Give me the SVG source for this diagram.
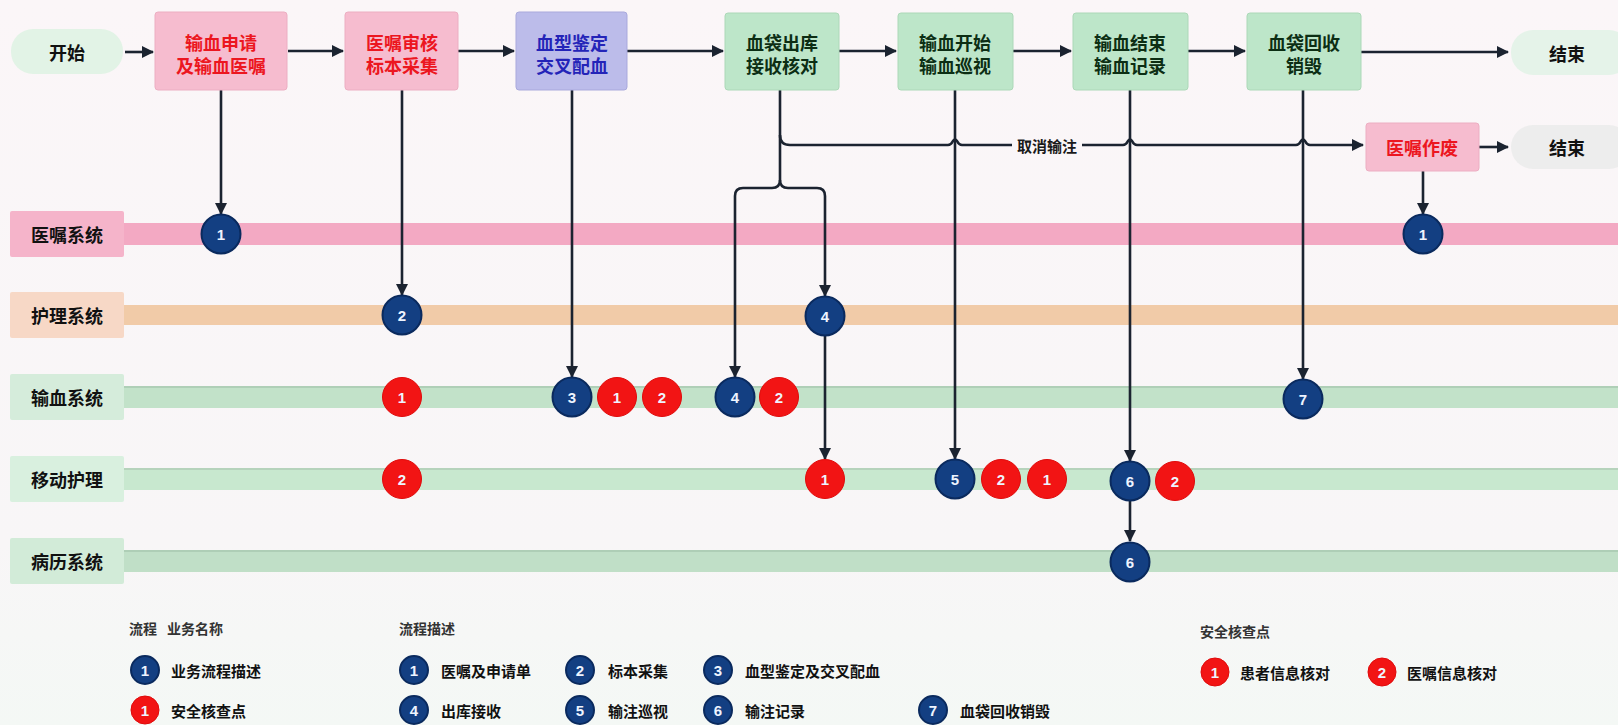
<svg xmlns="http://www.w3.org/2000/svg" width="1618" height="725" viewBox="0 0 1618 725">
<defs>
<marker id="ah" viewBox="0 0 12 12" refX="11" refY="6" markerWidth="12" markerHeight="12" markerUnits="userSpaceOnUse" orient="auto">
<path d="M0,0 L12,6 L0,12 Z" fill="#1b2330"/>
</marker>
<linearGradient id="bgG" x1="0" y1="0" x2="0" y2="1">
<stop offset="0" stop-color="#fbf6f8"/>
<stop offset="0.75" stop-color="#f8f6f7"/>
<stop offset="1" stop-color="#f4f8f5"/>
</linearGradient>
</defs>
<style>
.nt{font-family:"Noto Sans CJK SC","Noto Sans",sans-serif;font-weight:bold;font-size:18px;text-anchor:middle;dominant-baseline:central}
.red{fill:#ec1620}
.blu{fill:#2424b8}
.grn{fill:#0c2e14}
.blk{fill:#111}
.pink{fill:#f6bccf;stroke:#ecaec2;stroke-width:1}
.lav{fill:#bcbcea;stroke:#a9a9dc;stroke-width:1}
.green{fill:#bde6c9;stroke:#acd8b8;stroke-width:1}
.ln{fill:none;stroke:#1b2330;stroke-width:2.6}
.cb{fill:#133f82;stroke:#0a2a5e;stroke-width:2}
.cr{fill:#f21414;stroke:#e00a0a;stroke-width:1}
.cn{font-family:"Liberation Sans","DejaVu Sans",sans-serif;font-weight:bold;font-size:15px;fill:#eef4ff;text-anchor:middle;dominant-baseline:central}
.lt{font-family:"Noto Sans CJK SC","Noto Sans",sans-serif;font-weight:bold;font-size:15px;fill:#111;dominant-baseline:central}
.lh{font-family:"Noto Sans CJK SC","Noto Sans",sans-serif;font-weight:bold;font-size:14px;fill:#333;dominant-baseline:central}
.ll{font-family:"Noto Sans CJK SC","Noto Sans",sans-serif;font-weight:bold;font-size:18px;fill:#111;text-anchor:middle;dominant-baseline:central}
</style>
<rect x="0" y="0" width="1618" height="725" fill="url(#bgG)"/>

<!-- lanes -->
<g id="lane-yizhu">
<rect x="124" y="223" width="1494" height="22" fill="#f3a9c3"/>
<rect x="10" y="211" width="114" height="46" rx="2" fill="#f5b4ca"/>
<text class="ll" x="67" y="234">医嘱系统</text>
</g>
<g id="lane-huli">
<rect x="124" y="305" width="1494" height="20" fill="#f1cba8"/>
<rect x="10" y="292" width="114" height="46" rx="2" fill="#f7d8c6"/>
<text class="ll" x="67" y="315">护理系统</text>
</g>
<g id="lane-shuxue">
<rect x="124" y="386" width="1494" height="22" fill="#c2e2c9"/>
<line x1="124" y1="387" x2="1618" y2="387" stroke="#a9c9b0" stroke-width="1.5"/>
<rect x="10" y="374" width="114" height="46" rx="2" fill="#d5ecdb"/>
<text class="ll" x="67" y="397">输血系统</text>
</g>
<g id="lane-yidong">
<rect x="124" y="468" width="1494" height="22" fill="#c8e8cf"/>
<line x1="124" y1="469" x2="1618" y2="469" stroke="#b0ccb6" stroke-width="1.5"/>
<rect x="10" y="456" width="114" height="46" rx="2" fill="#d9f0df"/>
<text class="ll" x="67" y="479">移动护理</text>
</g>
<g id="lane-bingli">
<rect x="124" y="550" width="1494" height="22" fill="#c0dfc7"/>
<line x1="124" y1="551" x2="1618" y2="551" stroke="#a8c8b0" stroke-width="1.5"/>
<rect x="10" y="538" width="114" height="46" rx="2" fill="#d2ebd8"/>
<text class="ll" x="67" y="561">病历系统</text>
</g>

<!-- connectors -->
<g id="connectors">
<line class="ln" x1="125" y1="52" x2="153" y2="52" marker-end="url(#ah)"/>
<line class="ln" x1="288" y1="51" x2="343" y2="51" marker-end="url(#ah)"/>
<line class="ln" x1="458" y1="51" x2="514" y2="51" marker-end="url(#ah)"/>
<line class="ln" x1="627" y1="51" x2="723" y2="51" marker-end="url(#ah)"/>
<line class="ln" x1="839" y1="51" x2="896" y2="51" marker-end="url(#ah)"/>
<line class="ln" x1="1013" y1="51" x2="1071" y2="51" marker-end="url(#ah)"/>
<line class="ln" x1="1188" y1="51" x2="1245" y2="51" marker-end="url(#ah)"/>
<line class="ln" x1="1361" y1="52" x2="1508" y2="52" marker-end="url(#ah)"/>
<line class="ln" x1="1479" y1="147" x2="1508" y2="147" marker-end="url(#ah)"/>

<line class="ln" x1="221" y1="90" x2="221" y2="214" marker-end="url(#ah)"/>
<line class="ln" x1="402" y1="90" x2="402" y2="295" marker-end="url(#ah)"/>
<line class="ln" x1="572" y1="90" x2="572" y2="377" marker-end="url(#ah)"/>
<path class="ln" d="M780,90 V180 Q780,188 772,188 H743 Q735,188 735,196 V377" marker-end="url(#ah)"/>
<path class="ln" d="M780,180 Q780,188 788,188 H817 Q825,188 825,196 V296" marker-end="url(#ah)"/>
<line class="ln" x1="825" y1="335" x2="825" y2="459" marker-end="url(#ah)"/>
<line class="ln" x1="955" y1="90" x2="955" y2="459" marker-end="url(#ah)"/>
<line class="ln" x1="1130" y1="90" x2="1130" y2="461" marker-end="url(#ah)"/>
<line class="ln" x1="1130" y1="501" x2="1130" y2="541" marker-end="url(#ah)"/>
<line class="ln" x1="1303" y1="90" x2="1303" y2="379" marker-end="url(#ah)"/>
<line class="ln" x1="1423" y1="171" x2="1423" y2="214" marker-end="url(#ah)"/>

<path class="ln" d="M780,135 Q780,145 790,145 H948 Q951,145 953,141 Q955,138 957,141 Q959,145 962,145 H1012"/>
<path class="ln" d="M1082,145 H1123 Q1126,145 1128,141 Q1130,138 1132,141 Q1134,145 1137,145 H1296 Q1299,145 1301,141 Q1303,138 1305,141 Q1307,145 1310,145 H1363" marker-end="url(#ah)"/>
<text x="1047" y="145" style="font-family:'Noto Sans CJK SC','Noto Sans',sans-serif;font-weight:bold;font-size:15px;fill:#1a1a1a;text-anchor:middle;dominant-baseline:central">取消输注</text>
</g>

<!-- top nodes -->
<g id="start">
<rect x="11" y="29" width="112" height="45" rx="22" fill="#e2f3e6"/>
<text class="nt blk" x="67" y="52">开始</text>
</g>
<g id="n1">
<rect class="pink" x="155" y="12" width="132" height="78" rx="3"/>
<text class="nt red" x="221" y="42">输血申请</text>
<text class="nt red" x="221" y="65">及输血医嘱</text>
</g>
<g id="n2">
<rect class="pink" x="345" y="12" width="113" height="78" rx="3"/>
<text class="nt red" x="402" y="42">医嘱审核</text>
<text class="nt red" x="402" y="65">标本采集</text>
</g>
<g id="n3">
<rect class="lav" x="516" y="12" width="111" height="78" rx="3"/>
<text class="nt blu" x="572" y="42">血型鉴定</text>
<text class="nt blu" x="572" y="65">交叉配血</text>
</g>
<g id="n4">
<rect class="green" x="725" y="13" width="114" height="77" rx="3"/>
<text class="nt grn" x="782" y="42">血袋出库</text>
<text class="nt grn" x="782" y="65">接收核对</text>
</g>
<g id="n5">
<rect class="green" x="898" y="13" width="115" height="77" rx="3"/>
<text class="nt grn" x="955" y="42">输血开始</text>
<text class="nt grn" x="955" y="65">输血巡视</text>
</g>
<g id="n6">
<rect class="green" x="1073" y="13" width="115" height="77" rx="3"/>
<text class="nt grn" x="1130" y="42">输血结束</text>
<text class="nt grn" x="1130" y="65">输血记录</text>
</g>
<g id="n7">
<rect class="green" x="1247" y="13" width="114" height="77" rx="3"/>
<text class="nt grn" x="1304" y="42">血袋回收</text>
<text class="nt grn" x="1304" y="65">销毁</text>
</g>
<g id="end1">
<rect x="1511" y="30" width="120" height="45" rx="22" fill="#e5f3e9"/>
<text class="nt blk" x="1567" y="53">结束</text>
</g>
<g id="cancel">
<rect class="pink" x="1366" y="123" width="113" height="48" rx="3"/>
<text class="nt red" x="1422" y="147">医嘱作废</text>
</g>
<g id="end2">
<rect x="1511" y="125" width="120" height="44" rx="22" fill="#ededed"/>
<text class="nt blk" x="1567" y="147">结束</text>
</g>

<!-- lane markers -->
<g id="m-yizhu-1a"><circle class="cb" cx="221" cy="234" r="19.5"/><text class="cn" x="221" y="234">1</text></g>
<g id="m-yizhu-1b"><circle class="cb" cx="1423" cy="234" r="19.5"/><text class="cn" x="1423" y="234">1</text></g>
<g id="m-huli-2"><circle class="cb" cx="402" cy="315" r="19.5"/><text class="cn" x="402" y="315">2</text></g>
<g id="m-huli-4"><circle class="cb" cx="825" cy="316" r="19.5"/><text class="cn" x="825" y="316">4</text></g>
<g id="m-sx-r1"><circle class="cr" cx="402" cy="397" r="19.5"/><text class="cn" x="402" y="397">1</text></g>
<g id="m-sx-3"><circle class="cb" cx="572" cy="397" r="19.5"/><text class="cn" x="572" y="397">3</text></g>
<g id="m-sx-r1b"><circle class="cr" cx="617" cy="397" r="19.5"/><text class="cn" x="617" y="397">1</text></g>
<g id="m-sx-r2"><circle class="cr" cx="662" cy="397" r="19.5"/><text class="cn" x="662" y="397">2</text></g>
<g id="m-sx-4"><circle class="cb" cx="735" cy="397" r="19.5"/><text class="cn" x="735" y="397">4</text></g>
<g id="m-sx-r2b"><circle class="cr" cx="779" cy="397" r="19.5"/><text class="cn" x="779" y="397">2</text></g>
<g id="m-sx-7"><circle class="cb" cx="1303" cy="399" r="19.5"/><text class="cn" x="1303" y="399">7</text></g>
<g id="m-yd-r2"><circle class="cr" cx="402" cy="479" r="19.5"/><text class="cn" x="402" y="479">2</text></g>
<g id="m-yd-r1"><circle class="cr" cx="825" cy="479" r="19.5"/><text class="cn" x="825" y="479">1</text></g>
<g id="m-yd-5"><circle class="cb" cx="955" cy="479" r="19.5"/><text class="cn" x="955" y="479">5</text></g>
<g id="m-yd-r2b"><circle class="cr" cx="1001" cy="479" r="19.5"/><text class="cn" x="1001" y="479">2</text></g>
<g id="m-yd-r1b"><circle class="cr" cx="1047" cy="479" r="19.5"/><text class="cn" x="1047" y="479">1</text></g>
<g id="m-yd-6"><circle class="cb" cx="1130" cy="481" r="19.5"/><text class="cn" x="1130" y="481">6</text></g>
<g id="m-yd-r2c"><circle class="cr" cx="1175" cy="481" r="19.5"/><text class="cn" x="1175" y="481">2</text></g>
<g id="m-bl-6"><circle class="cb" cx="1130" cy="562" r="19.5"/><text class="cn" x="1130" y="562">6</text></g>

<!-- legend -->
<g id="legend">
<text class="lh" x="129" y="628">流程</text>
<text class="lh" x="167" y="628">业务名称</text>
<circle class="cb" cx="145" cy="670" r="14"/><text class="cn" x="145" y="670">1</text>
<text class="lt" x="171" y="670">业务流程描述</text>
<circle class="cr" cx="145" cy="710" r="14"/><text class="cn" x="145" y="710">1</text>
<text class="lt" x="171" y="710">安全核查点</text>

<text class="lh" x="399" y="628">流程描述</text>
<circle class="cb" cx="414" cy="670" r="14"/><text class="cn" x="414" y="670">1</text>
<text class="lt" x="441" y="670">医嘱及申请单</text>
<circle class="cb" cx="580" cy="670" r="14"/><text class="cn" x="580" y="670">2</text>
<text class="lt" x="608" y="670">标本采集</text>
<circle class="cb" cx="718" cy="670" r="14"/><text class="cn" x="718" y="670">3</text>
<text class="lt" x="745" y="670">血型鉴定及交叉配血</text>
<circle class="cb" cx="414" cy="710" r="14"/><text class="cn" x="414" y="710">4</text>
<text class="lt" x="441" y="710">出库接收</text>
<circle class="cb" cx="580" cy="710" r="14"/><text class="cn" x="580" y="710">5</text>
<text class="lt" x="608" y="710">输注巡视</text>
<circle class="cb" cx="718" cy="710" r="14"/><text class="cn" x="718" y="710">6</text>
<text class="lt" x="745" y="710">输注记录</text>
<circle class="cb" cx="933" cy="710" r="14"/><text class="cn" x="933" y="710">7</text>
<text class="lt" x="960" y="710">血袋回收销毁</text>

<text class="lh" x="1200" y="631">安全核查点</text>
<circle class="cr" cx="1215" cy="672" r="14"/><text class="cn" x="1215" y="672">1</text>
<text class="lt" x="1240" y="672">患者信息核对</text>
<circle class="cr" cx="1382" cy="672" r="14"/><text class="cn" x="1382" y="672">2</text>
<text class="lt" x="1407" y="672">医嘱信息核对</text>
</g>
</svg>
